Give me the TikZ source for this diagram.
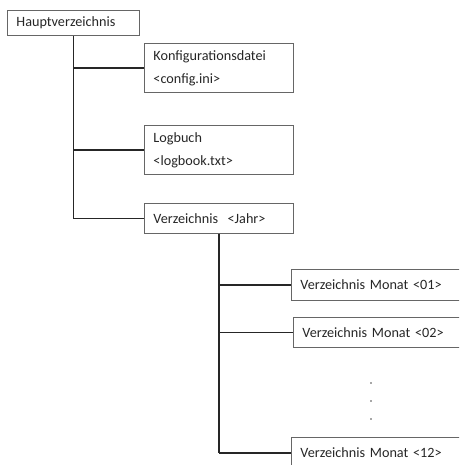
\documentclass[tikz,border=0pt]{standalone}
\usepackage{fontspec}
\setmainfont{Carlito}
\usetikzlibrary{positioning}

\tikzset{
  dirbox/.style={draw=black!60, line width=0.9pt, rectangle, anchor=north west,
    inner xsep=9pt, inner ysep=0pt, align=left, text=black!85,
    font=\fontsize{14.2}{23}\selectfont},
  twoline/.style={dirbox, text width=131pt, minimum height=49pt},
  oneline/.style={dirbox, text width=131pt, minimum height=30pt},
  monbox/.style={dirbox, text width=160pt, minimum height=31pt},
  branch/.style={draw=black!85, line width=1.3pt}
}

\begin{document}
\begin{tikzpicture}[x=1pt, y=-1pt]
  \useasboundingbox (0,0) rectangle (459,465);
  \clip (0,0) rectangle (459,465);

  % main directory and its entries
  \node[oneline, text width=114pt, minimum height=25pt] (haupt) at (7,10) {Hauptverzeichnis};
  \node[twoline] (konfig) at (144,43) {Konfigurationsdatei\\<config.ini>};
  \node[twoline] (logbuch) at (144,125) {Logbuch\\<logbook.txt>};
  \node[oneline] (jahr) at (144,203) {Verzeichnis\ \ <Jahr>};

  % month directories
  \node[monbox] (mon01) at (291,269) {Verzeichnis Monat <01>};
  \node[monbox, minimum height=30pt] (mon02) at (293,317) {Verzeichnis Monat <02>};
  \node[monbox] (mon12) at (291,437) {Verzeichnis Monat <12>};

  % tree lines
  \draw[branch] (haupt.south) -- (haupt.south |- jahr.west);
  \foreach \d in {konfig,logbuch,jahr} {
    \draw[branch] (haupt.south |- \d.west) -- (\d.west);
  }
  \draw[branch] (jahr.south) -- (jahr.south |- mon12.west);
  \foreach \d in {mon01,mon02,mon12} {
    \draw[branch] (jahr.south |- \d.west) -- (\d.west);
  }

  % dots between the months
  \foreach \y in {383,401,419} {
    \fill[black!70] (371,\y) circle (0.9);
  }
\end{tikzpicture}
\end{document}
